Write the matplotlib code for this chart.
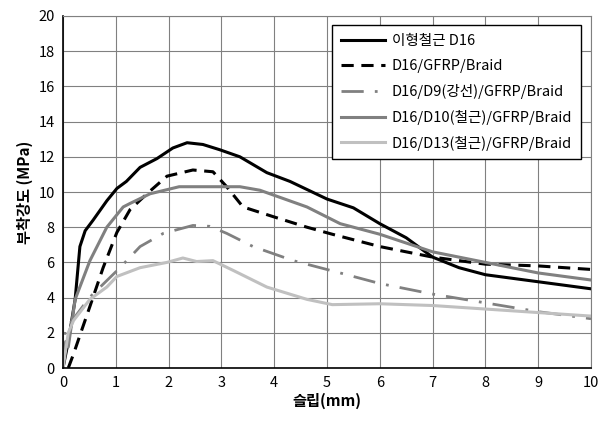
import matplotlib
matplotlib.use("Agg")
import matplotlib.pyplot as plt

plt.rcParams['font.family'] = ['Noto Sans CJK KR', 'DejaVu Sans']

# slip (mm) / bond strength (MPa)
x_d16 = [0, 0.1, 0.23, 0.32, 0.42, 0.57, 0.83, 1.02, 1.2, 1.46, 1.78, 2.08, 2.35, 2.65, 2.97,
         3.35, 3.86, 4.3, 5.0, 5.5, 6.0, 6.5, 7.0, 7.5, 8.0, 9.0, 10.0]
y_d16 = [0, 1.5, 3.9, 6.9, 7.8, 8.4, 9.5, 10.2, 10.6, 11.4, 11.9, 12.5, 12.8, 12.7, 12.4,
         12.0, 11.1, 10.6, 9.6, 9.1, 8.2, 7.4, 6.3, 5.7, 5.3, 4.9, 4.5]

x_gfrp = [0.1, 0.2, 0.36, 0.51, 0.76, 1.02, 1.27, 1.59, 1.97, 2.46, 2.84, 3.1, 3.41, 3.98,
          4.62, 5.1, 6.0, 7.0, 8.0, 9.0, 10.0]
y_gfrp = [0, 0.8, 2.2, 3.5, 5.7, 7.7, 9.0, 9.9, 10.9, 11.25, 11.15, 10.3, 9.15, 8.6,
          8.0, 7.6, 6.9, 6.3, 5.9, 5.8, 5.6]

x_d9 = [0, 0.04, 0.15, 0.5, 1.08, 1.46, 1.9, 2.46, 2.78, 3.1, 3.6, 4.36, 5.25, 6.0, 7.0, 8.0, 9.0, 10.0]
y_d9 = [0, 2.2, 2.6, 4.0, 5.7, 6.9, 7.65, 8.1, 8.05, 7.65, 6.9, 6.1, 5.4, 4.8, 4.2, 3.7, 3.2, 2.8]

x_d10 = [0, 0.05, 0.1, 0.23, 0.51, 0.83, 1.14, 1.27, 1.65, 2.2, 2.72, 3.35, 3.73, 4.62,
         5.25, 6.0, 7.0, 8.0, 9.0, 10.0]
y_d10 = [0, 1.5, 1.2, 3.9, 6.1, 8.0, 9.15, 9.35, 9.9, 10.3, 10.3, 10.3, 10.1, 9.15,
         8.2, 7.6, 6.6, 6.0, 5.4, 5.0]

x_d13 = [0, 0.1, 0.2, 0.51, 0.83, 1.02, 1.46, 1.97, 2.27, 2.53, 2.84, 3.22, 3.86, 4.62,
         5.1, 6.0, 7.0, 8.0, 9.0, 10.0]
y_d13 = [0, 2.0, 2.7, 3.9, 4.6, 5.2, 5.7, 6.0, 6.25, 6.05, 6.1, 5.55, 4.6, 3.9,
         3.6, 3.65, 3.55, 3.35, 3.15, 2.95]

labels = ['이형철근 D16', 'D16/GFRP/Braid', 'D16/D9(강선)/GFRP/Braid',
          'D16/D10(철근)/GFRP/Braid', 'D16/D13(철근)/GFRP/Braid']

fig = plt.figure(figsize=(6.08, 4.23), dpi=100)
ax = fig.add_axes([63 / 608, 1 - 368 / 423, (591 - 63) / 608, (368 - 16) / 423])

ax.plot(x_d16, y_d16, color='black', lw=2.2, label=labels[0])
ax.plot(x_gfrp, y_gfrp, color='black', lw=2.2, ls=(0, (4, 2.5)), label=labels[1])
ax.plot(x_d9, y_d9, color='#808080', lw=2.0, ls=(0, (8, 4, 1, 4)), label=labels[2])
ax.plot(x_d10, y_d10, color='#808080', lw=2.2, label=labels[3])
ax.plot(x_d13, y_d13, color='#c0c0c0', lw=2.2, label=labels[4])

ax.set_xlim(0, 10)
ax.set_ylim(0, 20)
ax.set_xticks(range(0, 11))
ax.set_yticks(range(0, 21, 2))
ax.grid(True, color='#808080', lw=0.8)
ax.tick_params(length=0, labelsize=10.5, pad=6)
for side in ['top', 'right']:
    ax.spines[side].set_color('#808080')
    ax.spines[side].set_linewidth(0.8)
for side in ['left', 'bottom']:
    ax.spines[side].set_color('black')
    ax.spines[side].set_linewidth(1.2)

ax.set_xlabel('슬립(mm)', fontsize=11, fontweight='bold', labelpad=2)
ax.set_ylabel('부착강도 (MPa)', fontsize=11, fontweight='bold', labelpad=4)

leg = ax.legend(loc='upper right', bbox_to_anchor=(0.995, 0.995), fontsize=10.5,
                frameon=True, fancybox=False, edgecolor='black', framealpha=1,
                handlelength=3, labelspacing=0.75, borderpad=0.6, handletextpad=0.5)
leg.get_frame().set_linewidth(1.0)

fig.savefig('out.png', dpi=100)
